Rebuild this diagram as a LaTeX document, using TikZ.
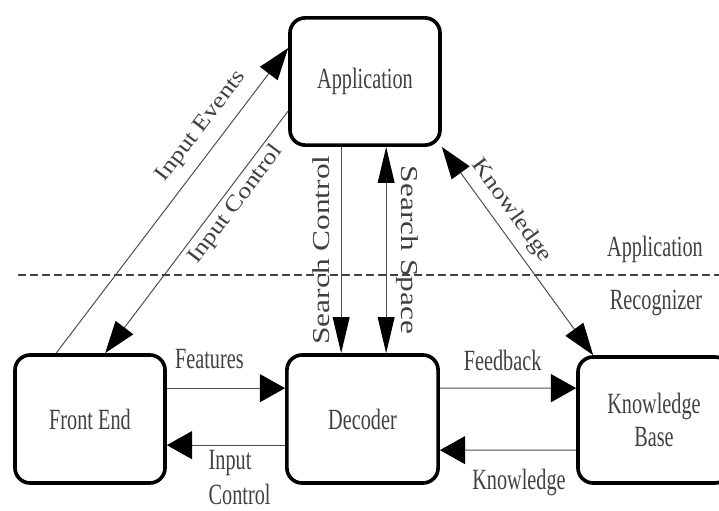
\documentclass[tikz,border=0pt]{standalone}
\usepackage{graphicx}
\usepackage{fontspec}
\setmainfont{Liberation Serif}
\usetikzlibrary{arrows.meta, calc}

% the source figure is stretched: tall letters
\newcommand{\vstretch}[1]{\scalebox{1}[1.45]{#1}}
\newcommand{\dstretch}[1]{\scalebox{1.3}[1.1]{#1}}
\newcommand{\lstretch}[1]{\scalebox{1.55}[1.2]{#1}}

\begin{document}
\begin{tikzpicture}[x=0.025cm, y=-0.025cm,
    block/.style={draw=black, line width=2.6pt, rounded corners=0.38cm, inner sep=0pt,
        align=center, text=black!75, font=\fontsize{14.4}{23}\selectfont},
    lbl/.style={inner sep=0pt, text=black!75, font=\fontsize{14.4}{24.5}\selectfont},
    link/.style={line width=0.7pt, draw=black!70},
    hflow/.style={link, -{Triangle[length=0.63cm, width=0.7cm, black]}},
    vflow/.style={link, -{Triangle[length=0.9cm, width=0.42cm, black]}},
    vboth/.style={link, {Triangle[length=0.9cm, width=0.42cm, black]}-{Triangle[length=0.9cm, width=0.42cm, black]}},
    dflow/.style={link, -{Triangle[length=0.8cm, width=0.55cm, black]}},
    dboth/.style={link, {Triangle[length=0.8cm, width=0.55cm, black]}-{Triangle[length=0.8cm, width=0.55cm, black]}}]
    \clip (0,0) rectangle (719,511);

    % Boxes
    \node[block, minimum width=3.75cm, minimum height=3.18cm] (app) at (365, 81.5) {\vstretch{Application}};
    \node[block, minimum width=3.75cm, minimum height=3.2cm] (fe) at (90, 419) {\vstretch{Front End}};
    \node[block, minimum width=3.78cm, minimum height=3.2cm] (dec) at (362.5, 419) {\vstretch{Decoder}};
    \node[block, minimum width=3.8cm, minimum height=3.15cm] (kb) at (654, 420) {\vstretch{Knowledge}\\\vstretch{Base}};

    % Layer border
    \draw[line width=1.3pt, dash pattern=on 0.2cm off 0.1cm, black!75] (18, 275) -- (725, 275);
    \node[lbl] (lapp) at (655, 249) {\vstretch{Application}};
    \node[lbl] (lrec) at (656, 303) {\vstretch{Recognizer}};

    % Front end <-> application
    \draw[dflow] ($(fe.north west)+(43,0)$) -- node[lbl, sloped, above=0.28cm, pos=0.7] (ievt) {\dstretch{Input Events}} ($(app.north west)+(0,32)$);
    \draw[dflow] ($(app.north west)+(0,95)$) -- node[lbl, sloped, below=0.1cm, pos=0.35] (ictl) {\dstretch{Input Control}} ($(fe.north west)+(92,0)$);

    % Application <-> decoder
    \draw[vflow] ($(app.south west)+(53,0)$) coordinate (sc) -- (sc |- dec.north)
        node[lbl, midway, rotate=90, anchor=south, inner sep=0.27cm] (sctl) {\lstretch{Search Control}};
    \draw[vboth] ($(app.south west)+(98,0)$) coordinate (ss) -- (ss |- dec.north)
        node[lbl, midway, rotate=-90, anchor=south, inner sep=0.25cm] (sspc) {\lstretch{Search Space}};

    % Application <-> knowledge base
    \draw[dboth] (app.south east) -- node[lbl, sloped, above=0.2cm, pos=0.36] (know) {\dstretch{Knowledge}} ($(kb.north west)+(17,0)$);

    % Recognizer links
    \draw[hflow] ($(fe.north east)+(0,35)$) -- node[lbl, above=0.47cm, pos=0.36] (feat) {\vstretch{Features}} ($(dec.north west)+(0,35)$);
    \draw[hflow] ($(dec.north west)+(0,92)$) -- node[lbl, anchor=north west, align=left, inner xsep=0pt, inner ysep=0.125cm, pos=0.65] (ictl2) {\vstretch{Input}\\\vstretch{Control}} ($(fe.north east)+(0,92)$);
    \draw[hflow] ($(dec.north east)+(0,35)$) -- node[lbl, above=0.43cm, pos=0.46] (fdbk) {\vstretch{Feedback}} ($(kb.north west)+(0,33)$);
    \draw[hflow] ($(kb.north west)+(0,95)$) -- node[lbl, below=0.45cm, pos=0.42] (know2) {\vstretch{Knowledge}} ($(dec.north east)+(0,97)$);
\end{tikzpicture}
\end{document}
